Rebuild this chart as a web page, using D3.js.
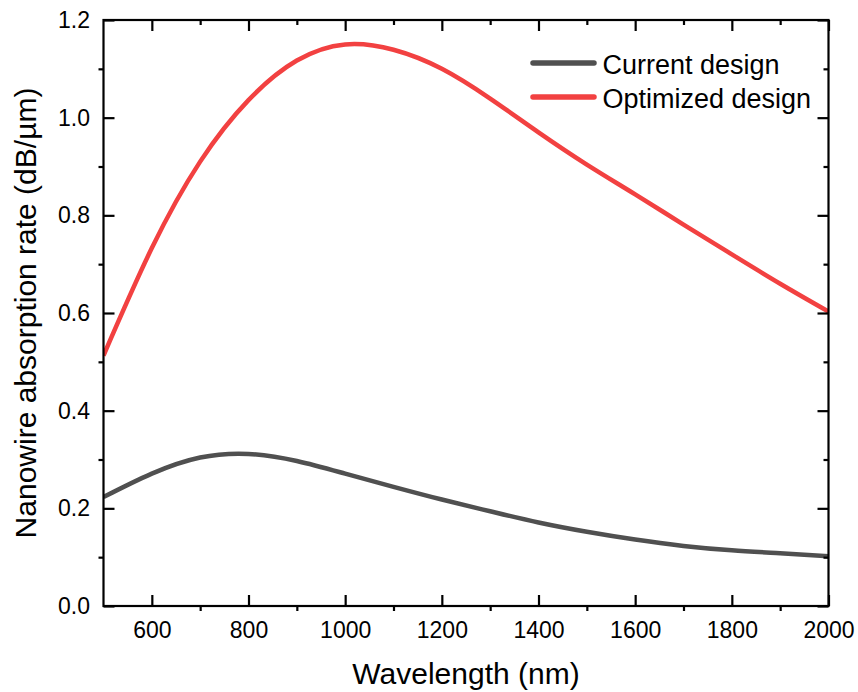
<!DOCTYPE html>
<html>
<head>
<meta charset="utf-8">
<script src="https://cdn.jsdelivr.net/npm/d3@7"></script>
<style>
  html, body { margin: 0; padding: 0; background: #fff; }
  svg { display: block; font-family: "Liberation Sans", Arial, sans-serif; }
</style>
</head>
<body>
<svg id="chart" width="858" height="692"></svg>
<script>
// Wavelength samples (nm)
const wavelengths = [500, 600, 700, 800, 900, 1000, 1100, 1200, 1300, 1400, 1500, 1600, 1700, 1800, 1900, 2000];
// Nanowire absorption rate (dB/µm) for each design
const currentDesign   = [0.223, 0.271, 0.304, 0.3115, 0.297, 0.271, 0.244, 0.218, 0.194, 0.171, 0.152, 0.136, 0.123, 0.114, 0.108, 0.102];
const optimizedDesign = [0.513, 0.733, 0.910, 1.036, 1.117, 1.150, 1.139, 1.100, 1.039, 0.970, 0.904, 0.843, 0.781, 0.720, 0.660, 0.603];

const seriesNames  = ["Current design", "Optimized design"];
const seriesColors = ["#505050", "#f24141"];

const xMajorTicks = [600, 800, 1000, 1200, 1400, 1600, 1800, 2000];
const xMinorTicks = [700, 900, 1100, 1300, 1500, 1700, 1900];
const yMajorTicks = [0.0, 0.2, 0.4, 0.6, 0.8, 1.0, 1.2];
const yMinorTicks = [0.1, 0.3, 0.5, 0.7, 0.9, 1.1];

const xTitle = "Wavelength (nm)";
const yTitle = "Nanowire absorption rate (dB/\u00B5m)";

const svg = d3.select("#chart");
const plotL = 103.5, plotR = 828.5, plotT = 20, plotB = 606;

const x = d3.scaleLinear().domain([500, 2000]).range([plotL, plotR]);
const y = d3.scaleLinear().domain([0, 1.2]).range([plotB, plotT]);

const series = [currentDesign, optimizedDesign].map((vals, i) => ({
  name: seriesNames[i],
  color: seriesColors[i],
  points: wavelengths.map((w, j) => [w, vals[j]])
}));

// Smooth curves through the samples
const line = d3.line()
  .x(d => x(d[0]))
  .y(d => y(d[1]))
  .curve(d3.curveNatural);

svg.append("defs").append("clipPath").attr("id", "plotClip")
  .append("rect").attr("x", plotL).attr("y", plotT)
  .attr("width", plotR - plotL).attr("height", plotB - plotT);

svg.append("g").attr("clip-path", "url(#plotClip)")
  .selectAll("path")
  .data(series)
  .join("path")
  .attr("d", d => line(d.points))
  .attr("fill", "none")
  .attr("stroke", d => d.color)
  .attr("stroke-width", 4.5)
  .attr("stroke-linejoin", "round");

// Axes helpers
function styleAxis(g) {
  g.selectAll("line").attr("stroke", "#000").attr("stroke-width", 2.2);
  g.selectAll("path.domain").remove();
  g.selectAll("text").attr("fill", "#000").attr("font-size", 23);
}

// Bottom: major inward with labels, minor outward
svg.append("g").attr("transform", `translate(0,${plotB})`)
  .call(d3.axisBottom(x).tickValues(xMajorTicks).tickSizeInner(-11).tickSizeOuter(0)
    .tickPadding(16).tickFormat(d3.format("d")))
  .call(styleAxis);
svg.append("g").attr("transform", `translate(0,${plotB})`)
  .call(d3.axisBottom(x).tickValues(xMinorTicks).tickSize(5).tickFormat(""))
  .call(styleAxis);

// Left: major inward with labels, minor outward
svg.append("g").attr("transform", `translate(${plotL},0)`)
  .call(d3.axisLeft(y).tickValues(yMajorTicks).tickSizeInner(-11).tickSizeOuter(0)
    .tickPadding(13.5).tickFormat(d3.format(".1f")))
  .call(styleAxis);
svg.append("g").attr("transform", `translate(${plotL},0)`)
  .call(d3.axisLeft(y).tickValues(yMinorTicks).tickSize(5).tickFormat(""))
  .call(styleAxis);

// Top and right: all ticks inward, no labels
svg.append("g").attr("transform", `translate(0,${plotT})`)
  .call(d3.axisTop(x).tickValues(xMajorTicks).tickSize(-11).tickFormat(""))
  .call(styleAxis);
svg.append("g").attr("transform", `translate(0,${plotT})`)
  .call(d3.axisTop(x).tickValues(xMinorTicks).tickSize(-5).tickFormat(""))
  .call(styleAxis);
svg.append("g").attr("transform", `translate(${plotR},0)`)
  .call(d3.axisRight(y).tickValues(yMajorTicks).tickSize(-11).tickFormat(""))
  .call(styleAxis);
svg.append("g").attr("transform", `translate(${plotR},0)`)
  .call(d3.axisRight(y).tickValues(yMinorTicks).tickSize(-5).tickFormat(""))
  .call(styleAxis);

// Frame
svg.append("rect")
  .attr("x", plotL).attr("y", plotT)
  .attr("width", plotR - plotL).attr("height", plotB - plotT)
  .attr("fill", "none").attr("stroke", "#000").attr("stroke-width", 2.2);

// Axis titles
svg.append("text")
  .attr("x", (plotL + plotR) / 2).attr("y", 684)
  .attr("text-anchor", "middle").attr("font-size", 30).attr("fill", "#000")
  .text(xTitle);

svg.append("text")
  .attr("transform", `translate(36,${(plotT + plotB) / 2}) rotate(-90)`)
  .attr("text-anchor", "middle").attr("font-size", 30).attr("fill", "#000")
  .text(yTitle);

// Legend
const legend = svg.append("g");
series.forEach((s, i) => {
  const ly = 63 + i * 34;
  legend.append("line")
    .attr("x1", 533).attr("x2", 594).attr("y1", ly).attr("y2", ly)
    .attr("stroke", s.color).attr("stroke-width", 5.5).attr("stroke-linecap", "round");
  legend.append("text")
    .attr("x", 602.5).attr("y", ly + 11)
    .attr("font-size", 27).attr("fill", "#000")
    .text(s.name);
});
</script>
</body>
</html>
